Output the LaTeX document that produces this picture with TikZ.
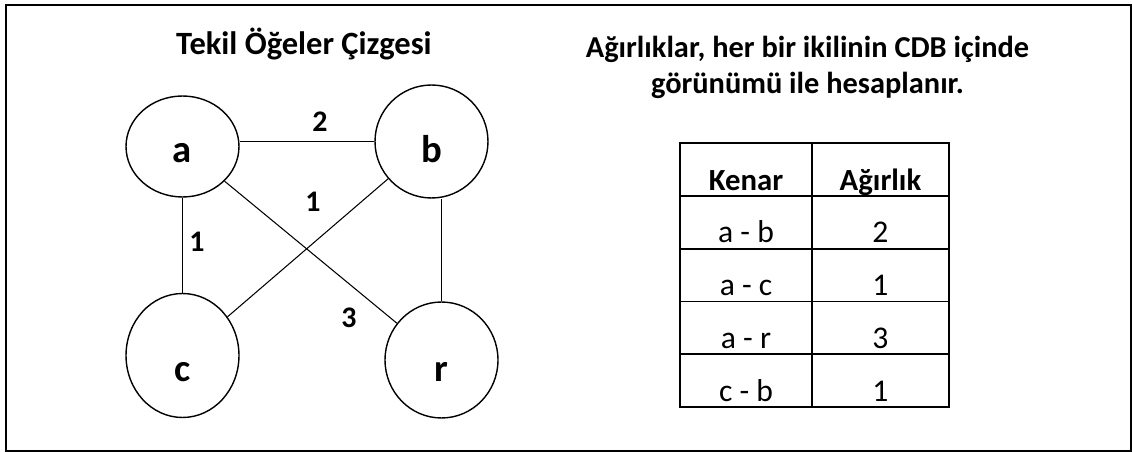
\documentclass[tikz,border=0pt]{standalone}
\usepackage{fontspec}
\setmainfont{Carlito}
\usetikzlibrary{shapes.geometric}

\begin{document}
\begin{tikzpicture}[
  x=0.02cm,y=-0.02cm,
  font=\fontsize{18}{21.6}\selectfont,
  vertex/.style={draw,ellipse,line width=0.8pt,inner sep=0pt,font=\fontsize{22}{24}\selectfont\bfseries,
    text height=0.8cm,text depth=0pt},
  wlabel/.style={font=\fontsize{17}{20}\selectfont\bfseries,inner sep=1pt},
  cell/.style={draw,line width=1.1pt,inner sep=0pt,minimum height=1.056cm,
    text height=0.936cm,text depth=0.11cm}
]
  \useasboundingbox (0,0) rectangle (1132,452);
  % Frame
  \draw[line width=0.8pt] (6,5) rectangle (1131,451);
  % Graph
  \node[font=\fontsize{18.5}{20}\selectfont\bfseries,anchor=base] (gtitle) at (304,55) {Tekil Öğeler Çizgesi};
  \node[vertex,minimum width=2.26cm,minimum height=2.02cm,text height=0.66cm] (a) at (182.5,146.5) {a};
  \node[vertex,minimum width=2.26cm,minimum height=2.26cm,text height=0.84cm] (b) at (431.5,141.5) {b};
  \node[vertex,minimum width=2.26cm,minimum height=2.48cm,text height=1.04cm] (c) at (182.5,355.5) {c};
  \node[vertex,minimum width=2.26cm,minimum height=2.32cm,text height=0.86cm] (r) at (441.5,360) {r};
  \draw[line width=0.6pt] (a.east |- b.west) -- (b.west);
  \draw[line width=0.6pt] (a) -- (c);
  \draw[line width=0.6pt] (c) -- (b);
  \draw[line width=0.6pt] (a) -- (r);
  \draw[line width=0.6pt] (r.north |- b.south) -- (r.north);
  \node[wlabel] (wab) at (320,122) {2};
  \node[wlabel] (wac) at (197,242) {1};
  \node[wlabel] (wcb) at (313,202) {1};
  \node[wlabel] (war) at (349,318) {3};
  % Table
  \node[font=\fontsize{17.3}{20.5}\selectfont\bfseries,align=center] (ttitle) at (807.5,67)
    {Ağırlıklar, her bir ikilinin CDB içinde\\görünümü ile hesaplanır.};
  \node[cell,minimum width=2.64cm,font=\fontsize{17.5}{20}\selectfont\bfseries] (h1) at (746,169.5) {Kenar};
  \node[cell,minimum width=2.74cm,font=\fontsize{17.5}{20}\selectfont\bfseries] (h2) at (880.5,169.5) {Ağırlık};
  \foreach \e/\w [count=\i] in {a - b/2, a - c/1, a - r/3, c - b/1}{
    \node[cell,minimum width=2.64cm] (e\i) at (746,169.5+52.8*\i) {\e};
    \node[cell,minimum width=2.74cm] (w\i) at (880.5,169.5+52.8*\i) {\w};
  }
\end{tikzpicture}
\end{document}
